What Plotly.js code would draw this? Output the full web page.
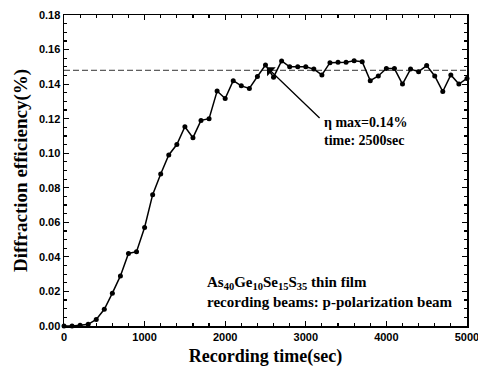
<!DOCTYPE html>
<html>
<head>
<meta charset="utf-8">
<script src="https://cdn.plot.ly/plotly-3.0.1.min.js"></script>
<style>html,body{margin:0;padding:0;background:#fff}#chart{width:478px;height:371px}</style>
</head>
<body>
<div id="chart"></div>
<script>
var timeSec = [0,100,200,300,400,500,600,700,800,900,1000,1100,1200,1300,1400,1500,1600,1700,1800,1900,2000,2100,2200,2300,2400,2500,2600,2700,2800,2900,3000,3100,3200,3300,3400,3500,3600,3700,3800,3900,4000,4100,4200,4300,4400,4500,4600,4700,4800,4900,5000];
var efficiency = [0.000,0.000,0.0005,0.001,0.0038,0.0097,0.019,0.029,0.042,0.043,0.057,0.076,0.088,0.099,0.105,0.1153,0.109,0.119,0.120,0.136,0.1317,0.142,0.139,0.1375,0.1444,0.151,0.144,0.1534,0.150,0.150,0.150,0.1487,0.1453,0.1524,0.1526,0.1526,0.1535,0.153,0.142,0.1447,0.149,0.149,0.140,0.1487,0.1472,0.1507,0.1447,0.1357,0.1453,0.140,0.1433];
var refLevel = 0.148;
var refX = [0, 5000];
var xTicks = [0,1000,2000,3000,4000,5000];
var yTicks = [0,0.02,0.04,0.06,0.08,0.10,0.12,0.14,0.16,0.18];
var yTickText = ['0.00','0.02','0.04','0.06','0.08','0.10','0.12','0.14','0.16','0.18'];

var serif = 'Liberation Serif, Times New Roman, serif';
var traces = [
  {x: refX, y: [refLevel, refLevel], mode: 'lines', line: {color: '#333', width: 1, dash: '6px,3px'}, hoverinfo: 'skip', showlegend: false},
  {x: timeSec, y: efficiency, mode: 'lines+markers', line: {color: '#000', width: 1.5}, marker: {color: '#000', size: 5, symbol: 'circle'}, showlegend: false, cliponaxis: false}
];
var axisCommon = {
  showgrid: false, zeroline: false, showline: true, linecolor: '#000', linewidth: 1.5,
  mirror: 'allticks', ticks: 'inside', ticklen: 5, tickwidth: 1.2, tickcolor: '#000',
  ticklabeloverflow: 'allow',
  tickfont: {family: 'Liberation Sans, Arial, sans-serif', size: 11, color: '#000', weight: 'bold'}
};
var layout = {
  width: 478, height: 371,
  margin: {l: 64, r: 11, t: 15, b: 45},
  paper_bgcolor: '#fff', plot_bgcolor: '#fff',
  xaxis: Object.assign({}, axisCommon, {
    range: [0, 5000.5], tickvals: xTicks, ticktext: xTicks.map(String), automargin: false,
    minor: {ticks: 'inside', ticklen: 3, dtick: 200, tickcolor: '#000'},
    title: {text: 'Recording time(sec)', font: {family: serif, size: 18, color: '#000', weight: 'bold'}, standoff: 7}
  }),
  yaxis: Object.assign({}, axisCommon, {
    range: [0, 0.18], tickvals: yTicks, ticktext: yTickText, automargin: false,
    minor: {ticks: 'inside', ticklen: 3, dtick: 0.005, tickcolor: '#000'},
    title: {text: 'Diffraction efficiency(%)', font: {family: serif, size: 19, color: '#000', weight: 'bold'}, standoff: 6}
  }),
  annotations: [
    {x: 2500, y: 0.1505, xref: 'x', yref: 'y', ax: 3190, ay: 0.1195, axref: 'x', ayref: 'y',
     showarrow: true, arrowhead: 1, arrowsize: 1.6, arrowwidth: 1.3, arrowcolor: '#000', standoff: 2, text: ''},
    {x: 3200, y: 0.1125, xref: 'x', yref: 'y', xanchor: 'left', yanchor: 'middle', showarrow: false, align: 'left',
     text: 'η max=0.14%<br>time: 2500sec', font: {family: serif, size: 14, color: '#000', weight: 'bold'}},
    {x: 1750, y: 0.0195, xref: 'x', yref: 'y', xanchor: 'left', yanchor: 'middle', showarrow: false, align: 'left',
     text: 'As<sub>40</sub>Ge<sub>10</sub>Se<sub>15</sub>S<sub>35</sub> thin film<br>recording beams: p-polarization beam',
     font: {family: serif, size: 15, color: '#000', weight: 'bold'}}
  ]
};
Plotly.newPlot('chart', traces, layout, {staticPlot: true, displayModeBar: false});
</script>
</body>
</html>
